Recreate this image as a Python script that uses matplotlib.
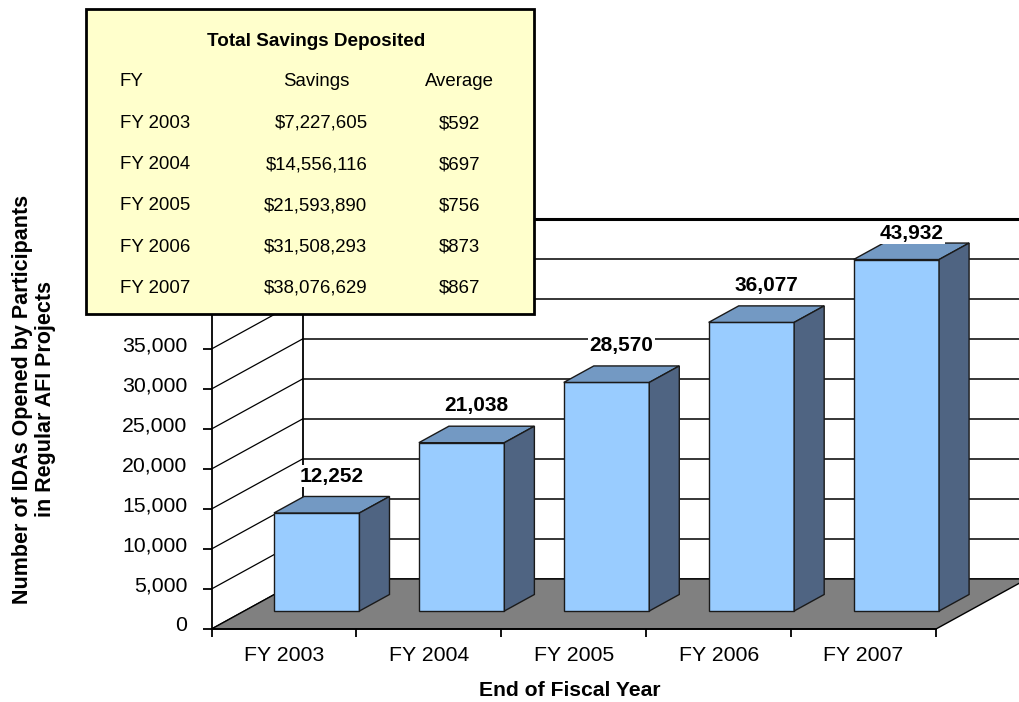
import matplotlib
matplotlib.use('Agg')
import matplotlib.pyplot as plt
from matplotlib.patches import Polygon, Rectangle
from matplotlib.transforms import ScaledTranslation

plt.rcParams['font.family'] = ['Liberation Sans', 'DejaVu Sans']

# ---------------- data ----------------
categories = ['FY 2003', 'FY 2004', 'FY 2005', 'FY 2006', 'FY 2007']
ida_counts = [12252, 21038, 28570, 36077, 43932]
y_ticks = [0, 5000, 10000, 15000, 20000, 25000, 30000, 35000, 40000, 45000]

table_title = 'Total Savings Deposited'
table_headers = ['FY', 'Savings', 'Average']
table_fy = ['FY 2003', 'FY 2004', 'FY 2005', 'FY 2006', 'FY 2007']
table_savings = ['$7,227,605', '$14,556,116', '$21,593,890', '$31,508,293', '$38,076,629']
table_average = ['$592', '$697', '$756', '$873', '$867']

x_title = 'End of Fiscal Year'
y_title = 'Number of IDAs Opened by Participants\nin Regular AFI Projects'

# ---------------- layout ----------------
W, H = 1019, 702
fig = plt.figure(figsize=(W / 100, H / 100), dpi=100)
fig.patch.set_facecolor('white')

ax_left, ax_right, ax_bottom, ax_top = 211.5, 936, 629, 269
ax = fig.add_axes([ax_left / W, 1 - ax_bottom / H,
                   (ax_right - ax_left) / W, (ax_bottom - ax_top) / H])
ymax = y_ticks[-1]
n = len(categories)
ax.set_xlim(0, n)
ax.set_ylim(0, ymax)
ax.patch.set_visible(False)

px_per_x = (ax_right - ax_left) / n
px_per_y = (ax_bottom - ax_top) / ymax
depth_dx = 91 / px_per_x
depth_dy = 50 / px_per_y


def proj(x, v, z):
    return (x + z * depth_dx, v + z * depth_dy)


def poly(pts, **kw):
    p = Polygon(pts, closed=True, clip_on=False, **kw)
    ax.add_patch(p)
    return p


# walls
poly([proj(0, 0, 0), proj(0, 0, 1), proj(0, ymax, 1), proj(0, ymax, 0)],
     facecolor='white', edgecolor='none', zorder=1)
poly([proj(0, 0, 1), proj(n, 0, 1), proj(n, ymax, 1), proj(0, ymax, 1)],
     facecolor='white', edgecolor='none', zorder=1)

# gridlines on back and side walls
for t in y_ticks:
    x0, y0 = proj(0, t, 1)
    x1, y1 = proj(n, t, 1)
    lw = 2.2 if t == ymax else 1.1
    ax.plot([x0, x1], [y0, y1], color='black', lw=lw, clip_on=False, zorder=2)
    xs0, ys0 = proj(0, t, 0)
    ax.plot([xs0, x0], [ys0, y0], color='black', lw=0.9, clip_on=False, zorder=2)
# back wall left edge
bx0, by0 = proj(0, 0, 1)
bx1, by1 = proj(0, ymax, 1)
ax.plot([bx0, bx1], [by0, by1], color='black', lw=1.3, clip_on=False, zorder=2)

# floor
poly([proj(0, 0, 0), proj(n, 0, 0), proj(n, 0, 1), proj(0, 0, 1)],
     facecolor='#808080', edgecolor='black', lw=1.0, zorder=3)

# bars
bar_w = 0.59
z0, z1 = 0.36, 0.69
front_c, top_c, side_c = '#99CCFF', '#7399C3', '#4F6482'
label_cap = ymax + depth_dy - 14 / px_per_y
for i, v in enumerate(ida_counts):
    xl = i + 0.5 - bar_w / 2
    xr = i + 0.5 + bar_w / 2
    poly([proj(xl, 0, z0), proj(xr, 0, z0), proj(xr, v, z0), proj(xl, v, z0)],
         facecolor=front_c, edgecolor='#1a1a1a', lw=1.0, zorder=4)
    poly([proj(xl, v, z0), proj(xr, v, z0), proj(xr, v, z1), proj(xl, v, z1)],
         facecolor=top_c, edgecolor='#1a1a1a', lw=1.0, zorder=4)
    poly([proj(xr, 0, z0), proj(xr, 0, z1), proj(xr, v, z1), proj(xr, v, z0)],
         facecolor=side_c, edgecolor='#1a1a1a', lw=1.0, zorder=4)
    lx, ly = proj(i + 0.5, v, (z0 + z1) / 2)
    ly = min(ly + 28.5 / px_per_y, label_cap)
    ax.text(lx, ly, f'{v:,}', ha='center', va='center', fontsize=15,
            fontweight='bold', clip_on=False, zorder=6,
            bbox=dict(facecolor='white', edgecolor='none', pad=1))

# axes / ticks
for s in ['top', 'right']:
    ax.spines[s].set_visible(False)
for s in ['left', 'bottom']:
    ax.spines[s].set_linewidth(1.3)
    ax.spines[s].set_color('black')
    ax.spines[s].set_zorder(5)
ax.set_yticks(y_ticks)
ax.set_yticklabels([f'{t:,}' for t in y_ticks])
ax.tick_params(axis='y', direction='out', length=6.5, width=1.3, pad=11, labelsize=15.3)
shift = ScaledTranslation(0, 5.5 / 100, fig.dpi_scale_trans)
for lab in ax.get_yticklabels():
    lab.set_transform(lab.get_transform() + shift)
ax.set_xticks(range(n + 1))
ax.set_xticklabels([''] * (n + 1))
ax.tick_params(axis='x', which='major', direction='out', length=6, width=1.3)
ax.set_xticks([i + 0.5 for i in range(n)], minor=True)
ax.set_xticklabels(categories, minor=True)
ax.tick_params(axis='x', which='minor', length=0, pad=12, labelsize=15.3)

fig.text(570 / W, 1 - 690 / H, x_title, ha='center', va='center',
         fontsize=15.2, fontweight='bold')
fig.text(34 / W, 1 - 399 / H, y_title, ha='center', va='center', rotation=90,
         fontsize=15.5, fontweight='bold', linespacing=1.12, multialignment='center')

# ---------------- table overlay ----------------
ov = fig.add_axes([0, 0, 1, 1])
ov.set_xlim(0, W)
ov.set_ylim(H, 0)
ov.axis('off')
ov.patch.set_visible(False)
ov.set_zorder(10)
ov.add_patch(Rectangle((86, 9), 448, 304.5, facecolor='#FFFFCC',
                       edgecolor='black', lw=2))
fs = 13.4
ov.text(316, 41, table_title, ha='center', va='center', fontsize=13.6, fontweight='bold')
ov.text(120, 82, table_headers[0], ha='left', va='center', fontsize=fs)
ov.text(316, 82, table_headers[1], ha='center', va='center', fontsize=fs)
ov.text(459.5, 82, table_headers[2], ha='center', va='center', fontsize=fs)
row_y0, row_dy = 123.5, 41.2
for k in range(len(table_fy)):
    yy = row_y0 + k * row_dy
    ov.text(120, yy, table_fy[k], ha='left', va='center', fontsize=fs)
    ov.text(367.5, yy, table_savings[k], ha='right', va='center', fontsize=fs)
    ov.text(459.5, yy, table_average[k], ha='center', va='center', fontsize=fs)

fig.savefig('out.png', dpi=100)
